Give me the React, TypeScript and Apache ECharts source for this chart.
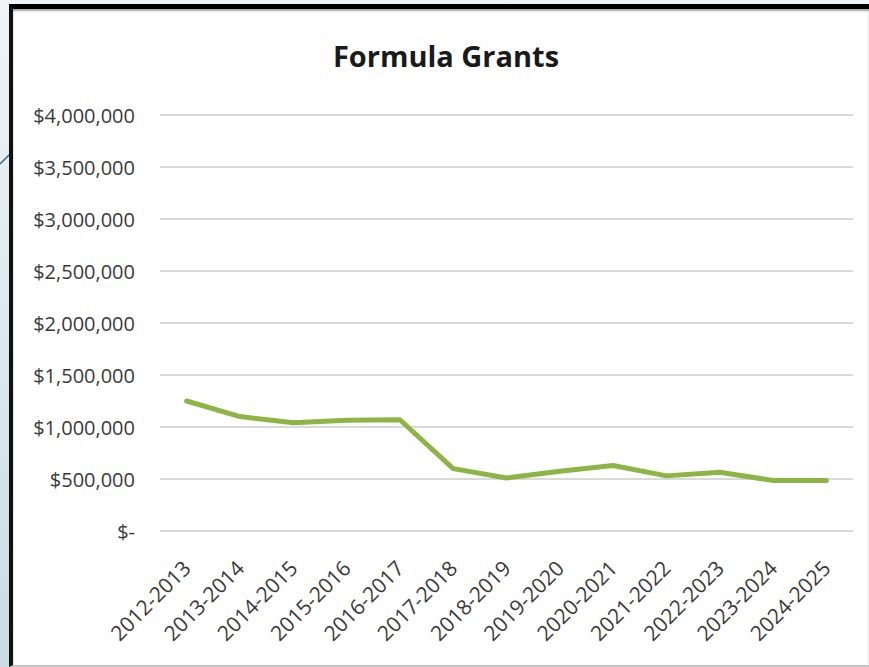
import React, { useEffect, useRef } from "react";
import * as echarts from "echarts";

const title = "Formula Grants";
const categories = [
  "2012-2013", "2013-2014", "2014-2015", "2015-2016", "2016-2017", "2017-2018",
  "2018-2019", "2019-2020", "2020-2021", "2021-2022", "2022-2023", "2023-2024", "2024-2025",
];
const grants = [
  1250000, 1100000, 1040000, 1065000, 1070000, 600000, 510000, 575000, 630000, 530000, 565000, 485000, 485000,
];
const yMin = 0;
const yMax = 4000000;
const yStep = 500000;

function fmtMoney(v: number): string {
  if (v === 0) return "$-";
  return "$" + v.toLocaleString("en-US");
}

export default function App() {
  const ref = useRef<HTMLDivElement>(null);
  useEffect(() => {
    if (!ref.current) return;
    const chart = echarts.init(ref.current, null, { renderer: "svg" });
    chart.setOption({
      animation: false,
      backgroundColor: "transparent",
      graphic: [
        {
          type: "text",
          x: 446,
          y: 55,
          style: {
            text: title,
            font: "bold 29px 'Open Sans', sans-serif",
            fill: "#1a1a1a",
            textAlign: "center",
            textVerticalAlign: "middle",
          },
        },
      ],
      grid: { left: 160, right: 16, top: 115, bottom: 136, containLabel: false },
      xAxis: {
        type: "category",
        data: categories,
        boundaryGap: true,
        axisLine: { show: false },
        axisTick: { show: false },
        axisLabel: {
          rotate: 45,
          margin: 33,
          interval: 0,
          color: "#3a3a3a",
          fontSize: 21,
          fontFamily: "'Open Sans', sans-serif",
        },
        splitLine: { show: false },
      },
      yAxis: {
        type: "value",
        min: yMin,
        max: yMax,
        interval: yStep,
        axisLine: { show: false },
        axisTick: { show: false },
        axisLabel: {
          margin: 25,
          color: "#3a3a3a",
          fontSize: 20,
          fontFamily: "'Open Sans', sans-serif",
          formatter: (v: number) => fmtMoney(v),
        },
        splitLine: { lineStyle: { color: "#d9d9d9", width: 2 } },
      },
      series: [
        {
          type: "line",
          data: grants,
          symbol: "none",
          lineStyle: { color: "#8cb545", width: 5, join: "round", cap: "round" },
          itemStyle: { color: "#8cb545" },
        },
      ],
    });
    return () => chart.dispose();
  }, []);

  return (
    <div
      style={{
        position: "fixed",
        left: 0,
        top: 0,
        width: 869,
        height: 667,
        overflow: "hidden",
        background: "linear-gradient(180deg, #eef4f7 0%, #dce9ef 50%, #c8dce4 100%)",
      }}
    >
      <svg width={869} height={667} style={{ position: "absolute", left: 0, top: 0 }}>
        <line x1={0} y1={164} x2={12} y2={152} stroke="#34607a" strokeWidth={1.5} />
      </svg>
      <div
        style={{
          position: "absolute",
          left: 9,
          top: 4,
          width: 860,
          height: 663,
          boxSizing: "border-box",
          background: "#ffffff",
          borderTop: "5px solid #000000",
          borderLeft: "4px solid #111111",
          borderBottom: "2px solid #c4c4c4",
          boxShadow: "inset 0 2px 2px rgba(0,0,0,0.35)",
        }}
      />
      <div ref={ref} style={{ position: "absolute", left: 0, top: 0, width: 869, height: 667 }} />
    </div>
  );
}
